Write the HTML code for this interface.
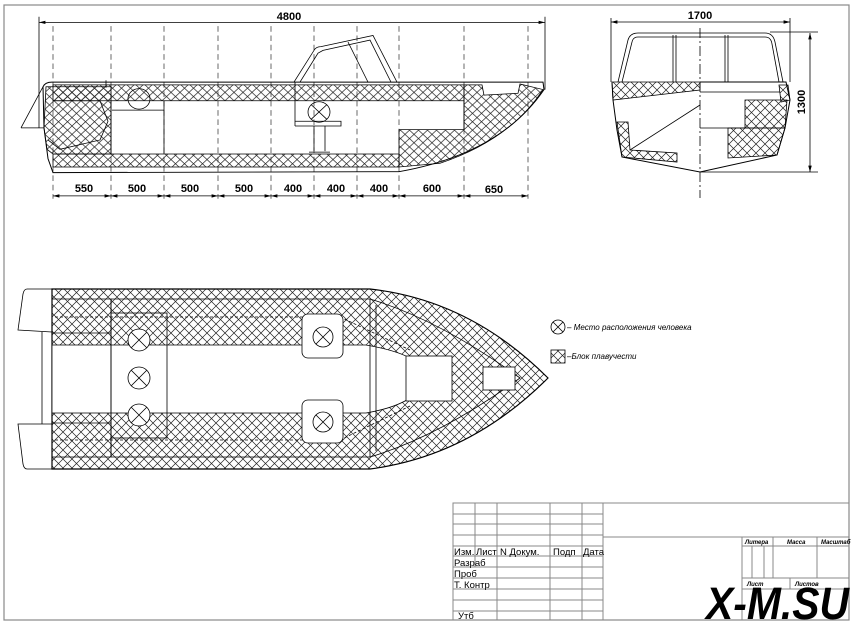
<!DOCTYPE html>
<html><head><meta charset="utf-8"><style>
html,body{margin:0;padding:0;background:#fff;}
svg{display:block;font-family:"Liberation Sans","DejaVu Sans",sans-serif;}
</style></head><body>
<svg width="854" height="627" viewBox="0 0 854 627" xmlns="http://www.w3.org/2000/svg">
<defs>
<pattern id="h" width="9" height="9" patternUnits="userSpaceOnUse">
<path d="M0,0L9,9M9,0L0,9M-1,8L1,10M8,-1L10,1" stroke="#222" stroke-width="0.7" fill="none"/>
</pattern>
<marker id="a" markerWidth="8" markerHeight="6" refX="8" refY="3" orient="auto-start-reverse"><path d="M0,0.8L8,3L0,5.2z" fill="#000"/></marker>
</defs>
<rect x="4" y="5" width="845" height="615" fill="none" stroke="#888" stroke-width="1.2"/>

<!-- SIDE VIEW -->
<g stroke="#000" stroke-width="0.8" fill="none" transform="scale(1,0.933)">
<line x1="39" y1="24" x2="545" y2="24" marker-start="url(#a)" marker-end="url(#a)"/>
<line x1="39" y1="18" x2="39" y2="137"/>
<line x1="545" y1="18" x2="545" y2="96"/>
<g stroke-dasharray="6,4" stroke="#444">
<line x1="53" y1="28" x2="53" y2="213"/><line x1="111" y1="28" x2="111" y2="213"/>
<line x1="164" y1="28" x2="164" y2="213"/><line x1="218" y1="28" x2="218" y2="213"/>
<line x1="271" y1="28" x2="271" y2="213"/><line x1="314" y1="28" x2="314" y2="213"/>
<line x1="357" y1="28" x2="357" y2="213"/><line x1="399" y1="28" x2="399" y2="213"/>
<line x1="464" y1="28" x2="464" y2="213"/><line x1="528" y1="28" x2="528" y2="213"/>
</g>
<g marker-start="url(#a)" marker-end="url(#a)">
<line x1="53" y1="210" x2="111" y2="210"/><line x1="111" y1="210" x2="164" y2="210"/>
<line x1="164" y1="210" x2="218" y2="210"/><line x1="218" y1="210" x2="271" y2="210"/>
<line x1="271" y1="210" x2="314" y2="210"/><line x1="314" y1="210" x2="357" y2="210"/>
<line x1="357" y1="210" x2="399" y2="210"/><line x1="399" y1="210" x2="464" y2="210"/>
<line x1="464" y1="210" x2="528" y2="210"/>
</g>
<path d="M53,91L464,91L464,108L53,108Z" fill="url(#h)"/>
<path d="M53,165L399,165L399,179L53,179Z" fill="url(#h)"/>
<path d="M46,93L111,93L111,165L53,165L47,160L44,137Z" fill="url(#h)"/>
<path d="M464,91L482,91L484,102L518,100L520,90L543,96Q510,150 440,175L399,179L399,139L464,139Z" fill="url(#h)"/>
<path d="M43,93Q45,88 52,88L543,88L544,96Q500,165 399,184L53,185L48,170L44,137Z" stroke-width="1"/>
<path d="M21,137L43,93M21,137L44,137"/>
<path d="M53,108L100,108L108,130L100,150L60,160L48,150"/>
<line x1="106" y1="86" x2="106" y2="94"/>
<line x1="111" y1="108" x2="111" y2="165"/>
<line x1="112" y1="118" x2="164" y2="118"/><line x1="164" y1="108" x2="164" y2="165"/>
<line x1="464" y1="108" x2="464" y2="139"/><line x1="399" y1="139" x2="464" y2="139"/>
<path d="M294,88L314,54Q316,50 321,50L373,38L397,88M300,88L318,57L323,54L370,43L391,88M348,45L368,88"/>
<line x1="295" y1="88" x2="295" y2="135"/>
<path d="M295,130L341,130L341,135L295,135"/>
<path d="M314,135L314,162M325,135L325,162M309,163L330,163"/>
<circle cx="319" cy="120" r="11"/><path d="M311,112L327,128M327,112L311,128"/>
<circle cx="139" cy="106" r="11" fill="none"/>
</g>
<g font-size="11" font-weight="bold" text-anchor="middle">
<text x="289" y="20">4800</text>
<text x="84" y="192">550</text><text x="137" y="192">500</text><text x="190" y="192">500</text>
<text x="244" y="192">500</text><text x="293" y="192">400</text><text x="336" y="192">400</text>
<text x="379" y="192">400</text><text x="432" y="192">600</text><text x="494" y="193">650</text>
</g>

<!-- FRONT VIEW -->
<g stroke="#000" stroke-width="0.8" fill="none">
<line x1="611" y1="22" x2="790" y2="22" marker-start="url(#a)" marker-end="url(#a)"/>
<line x1="611" y1="18" x2="611" y2="82"/><line x1="790" y1="18" x2="790" y2="82"/>
<line x1="700" y1="28" x2="700" y2="198" stroke-dasharray="10,3,2,3"/>
<line x1="810" y1="33" x2="810" y2="172" marker-start="url(#a)" marker-end="url(#a)"/>
<line x1="770" y1="32" x2="818" y2="32"/><line x1="700" y1="172" x2="818" y2="172"/>
<path d="M618,82L628,40Q630,33 638,33L765,33Q773,33 775,42L783,82"/>
<path d="M622,82L632,42Q633,37 638,37L765,37Q771,37 772,44L779,82"/>
<path d="M673,35L673,82M676,35L676,82M725,35L725,82M728,35L728,82"/>
<path d="M612,82L700,82L700,90L613,100Z" fill="url(#h)"/>
<path d="M779,85L788,85L790,100L781,102Z" fill="url(#h)"/>
<path d="M745,100L787,100L785,128L745,128Z" fill="url(#h)"/>
<path d="M728,128L785,128L777,155L728,158Z" fill="url(#h)"/>
<path d="M617,122L628,122L630,150L677,153L677,162L622,157Z" fill="url(#h)"/>
<path d="M612,82L613,100L617,130L622,157L700,172L777,155L785,128L790,100L786,82L700,82" stroke-width="1"/>
<path d="M630,150L700,105M700,128L745,128M700,92L780,92"/>
</g>
<g font-size="11" font-weight="bold" text-anchor="middle">
<text x="700" y="19">1700</text>
<text transform="translate(805,102) rotate(-90)">1300</text>
</g>

<!-- TOP VIEW -->
<g stroke="#000" stroke-width="0.8" fill="none">
<path d="M52,289L370,289Q470,300 548,378Q470,456 370,469L52,469Z" fill="url(#h)" stroke-width="1.2"/>
<path d="M52,345L366,345Q395,350 410,358L410,398Q395,408 366,413L52,413Z" fill="#fff"/>
<path d="M52,299L111,299L111,333L52,333M52,457L111,457L111,423L52,423"/>
<path d="M111,299L370,299M111,457L370,457M111,299L111,457"/>
<path d="M370,299Q440,320 520,378Q440,436 370,457"/>
<path d="M370,299L370,457M376,305L376,451"/>
<path d="M55,317L340,317L410,350M55,440L340,440L410,406" stroke-dasharray="3,2"/>
<rect x="111" y="313" width="56" height="125"/>
<rect x="406" y="356" width="46" height="45" fill="#fff"/>
<rect x="483" y="367" width="32" height="23" fill="#fff"/>
<rect x="302" y="314" width="41" height="44" rx="6" fill="#fff"/>
<rect x="302" y="400" width="41" height="43" rx="6" fill="#fff"/>
<circle cx="323" cy="337" r="10"/><path d="M316,330L330,344M330,330L316,344"/>
<circle cx="323" cy="422" r="10"/><path d="M316,415L330,429M330,415L316,429"/>
<circle cx="139" cy="340" r="11" fill="#fff"/><path d="M131,332L147,348M147,332L131,348"/>
<circle cx="139" cy="378" r="11"/><path d="M131,370L147,386M147,370L131,386"/>
<circle cx="139" cy="415" r="11" fill="#fff"/><path d="M131,407L147,423M147,407L131,423"/>
<path d="M52,289L27,289Q24,289 23,294L18,330L52,332"/>
<path d="M52,469L27,469Q24,469 23,464L18,424L52,424"/>
<line x1="42" y1="332" x2="42" y2="424"/>
<circle cx="558" cy="327" r="7"/><path d="M553,322L563,332M563,322L553,332"/>
<rect x="551" y="350" width="14" height="13" fill="url(#h)"/>
</g>
<g font-size="8" font-style="italic">
<text x="567" y="330">– Место расположения человека</text>
<text x="567" y="359">–Блок плавучести</text>
</g>

<!-- TITLE BLOCK -->
<g stroke="#888" stroke-width="1" fill="none">
<rect x="453" y="503" width="396" height="117"/>
<line x1="475" y1="503" x2="475" y2="567"/>
<path d="M497,503V620M550,503V620M582,503V620M603,503V620"/>
<path d="M453,514H603M453,524H603M453,535H603M453,546H603M453,556H603M453,567H603M453,578H603M453,589H603M453,600H603M453,611H603"/>
<path d="M603,537H849M742,537V620M742,546H849M773,537V578M817,537V578M742,578H849M742,589H849M752,546V578M764,546V578M790,578V589"/>
</g>
<g font-size="9.5" fill="#000">
<text x="454" y="555">Изм.</text><text x="476" y="555">Лист</text><text x="500" y="555">N  Докум.</text>
<text x="553" y="555">Подп</text><text x="583" y="555">Дата</text>
<text x="454" y="566">Разраб</text><text x="454" y="577">Проб</text><text x="454" y="588">Т. Контр</text>
<text x="458" y="619">Утб</text>
</g>
<g font-size="6" font-style="italic" font-weight="bold">
<text x="745" y="544">Литера</text><text x="787" y="544">Масса</text><text x="821" y="544">Масштаб</text>
<text x="747" y="586">Лист</text><text x="795" y="586">Листов</text>
</g>
<text x="706" y="619" font-size="45" font-weight="bold" font-style="italic" fill="#000" textLength="143" lengthAdjust="spacingAndGlyphs">X-M.SU</text>
</svg>
</body></html>
